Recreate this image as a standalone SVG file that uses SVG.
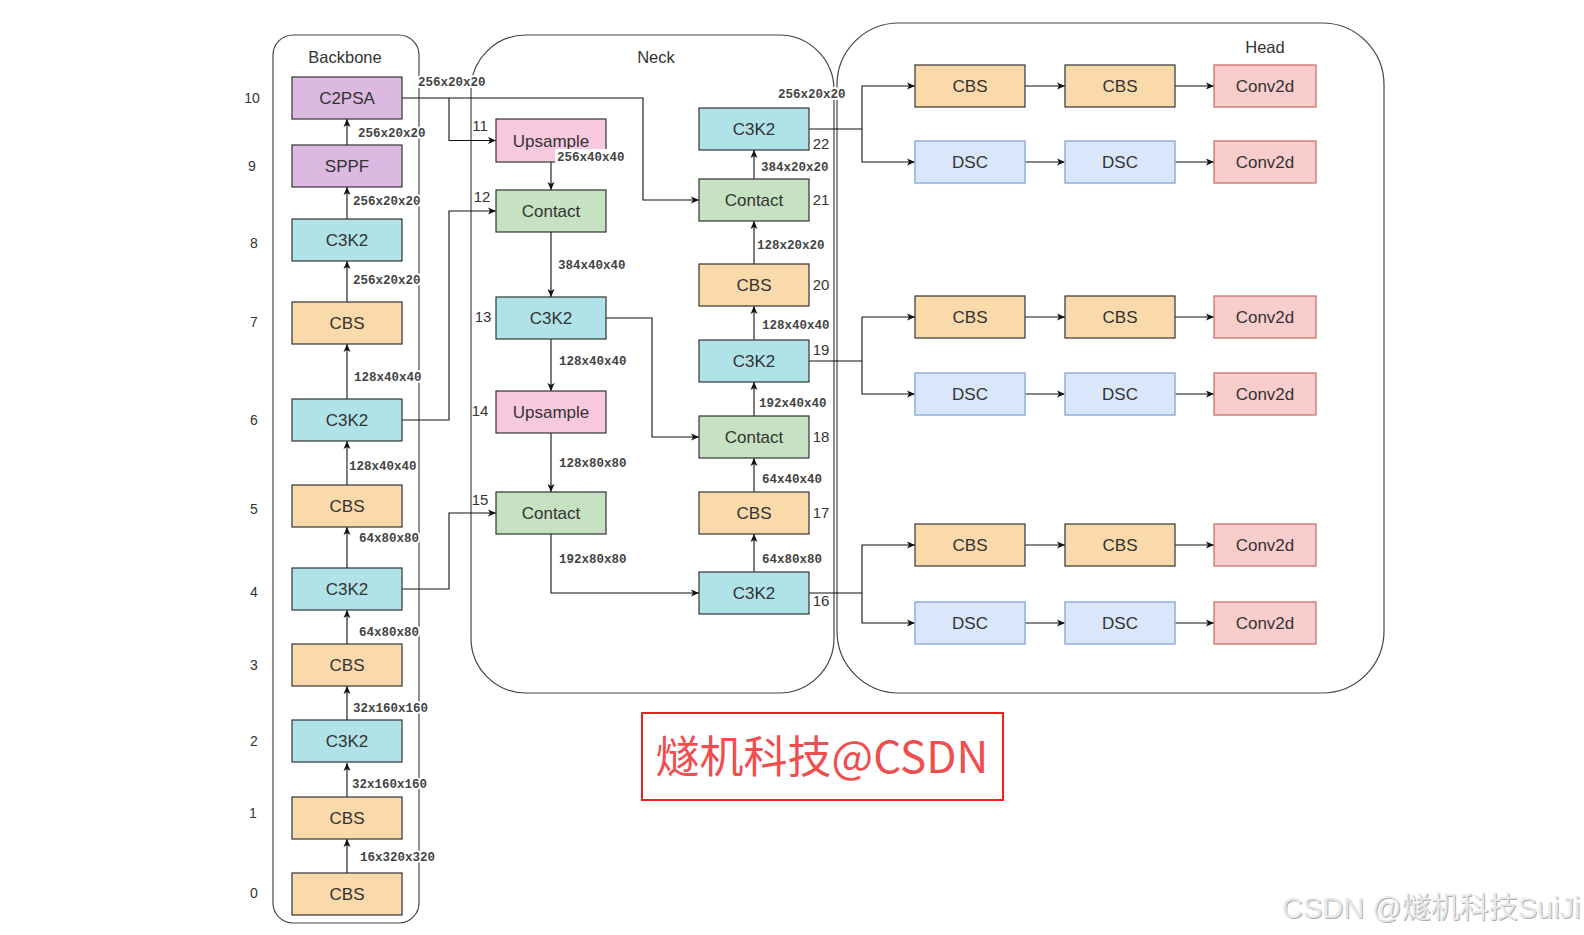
<svg xmlns="http://www.w3.org/2000/svg" width="1584" height="935" viewBox="0 0 1584 935">
<defs>
<marker id="ah" markerUnits="userSpaceOnUse" markerWidth="10" markerHeight="8" refX="8" refY="4" orient="auto">
<path d="M0,0.5 L8,4 L0,7.5 L2,4 Z" fill="#111"/>
</marker>
<style>
.cont{fill:none;stroke:#444;stroke-width:1.2}
.box{stroke:#333;stroke-width:1.2}
.cbs{fill:#fad9aa}
.c3k2{fill:#b0e3e8}
.purple{fill:#dcb9e0}
.up{fill:#f8c8de}
.cat{fill:#c6e2c3}
.dsc{fill:#dae7fb;stroke:#8eaedc;stroke-width:1.5}
.conv{fill:#f8cdcc;stroke:#c86864;stroke-width:1.2}
.t{font-family:"Liberation Sans",Arial,sans-serif;font-size:17px;fill:#333;text-anchor:middle}
.num{font-family:"Liberation Sans",Arial,sans-serif;font-size:14px;fill:#333;text-anchor:middle}
.num2{font-family:"Liberation Sans",Arial,sans-serif;font-size:15px;fill:#333;text-anchor:middle}
.title{font-family:"Liberation Sans",Arial,sans-serif;font-size:16.5px;fill:#333;text-anchor:middle}
.lbl{font-family:"Liberation Mono","Courier New",monospace;font-size:12.5px;font-weight:bold;fill:#444;stroke:#fff;stroke-width:4;paint-order:stroke;stroke-linejoin:round}
.ln{fill:none;stroke:#111;stroke-width:1.1}
.arr{fill:none;stroke:#111;stroke-width:1.1;marker-end:url(#ah)}
</style>
</defs>
<rect width="1584" height="935" fill="#fff"/>

<!-- containers -->
<g id="containers">
<rect class="cont" x="273" y="35" width="146" height="888" rx="20" ry="20"/>
<rect class="cont" x="471" y="35" width="363" height="658" rx="55" ry="55"/>
<rect class="cont" x="837" y="23" width="547" height="670" rx="62" ry="62"/>
<text class="title" x="345" y="63">Backbone</text>
<text class="title" x="656" y="63">Neck</text>
<text class="title" x="1265" y="53">Head</text>
</g>

<!-- connectors -->
<g id="connectors">
<!-- backbone -->
<path class="arr" d="M347,873 V839"/>
<path class="arr" d="M347,797 V763"/>
<path class="arr" d="M347,720 V686"/>
<path class="arr" d="M347,644 V610"/>
<path class="arr" d="M347,568 V527"/>
<path class="arr" d="M347,485 V441"/>
<path class="arr" d="M347,399 V344"/>
<path class="arr" d="M347,302 V261"/>
<path class="arr" d="M347,219 V187"/>
<path class="arr" d="M347,145 V119"/>
<!-- backbone to neck -->
<path class="arr" d="M402,98 H643 V200 H699"/>
<path class="arr" d="M449,98 V140.5 H496"/>
<path class="arr" d="M402,420 H449 V211 H496"/>
<path class="arr" d="M402,589 H449 V513 H496"/>
<!-- neck left column -->
<path class="arr" d="M551,162 V190"/>
<path class="arr" d="M551,232 V297"/>
<path class="arr" d="M551,339 V391"/>
<path class="arr" d="M551,433 V492"/>
<path class="arr" d="M606,318 H652 V437 H699"/>
<path class="arr" d="M551,534 V593 H699"/>
<!-- neck right column -->
<path class="arr" d="M754,572 V534"/>
<path class="arr" d="M754,492 V458"/>
<path class="arr" d="M754,416 V382"/>
<path class="arr" d="M754,340 V306"/>
<path class="arr" d="M754,264 V221"/>
<path class="arr" d="M754,179 V150"/>
<!-- neck to head -->
<path class="ln" d="M809,129 H862"/>
<path class="arr" d="M862,129 V86 H915"/>
<path class="arr" d="M862,129 V162 H915"/>
<path class="ln" d="M809,361 H862"/>
<path class="arr" d="M862,361 V317 H915"/>
<path class="arr" d="M862,361 V394 H915"/>
<path class="ln" d="M809,593 H862"/>
<path class="arr" d="M862,593 V545 H915"/>
<path class="arr" d="M862,593 V623 H915"/>
<!-- head rows -->
<path class="arr" d="M1025,86 H1065"/>
<path class="arr" d="M1175,86 H1214"/>
<path class="arr" d="M1025,162 H1065"/>
<path class="arr" d="M1175,162 H1214"/>
<path class="arr" d="M1025,317 H1065"/>
<path class="arr" d="M1175,317 H1214"/>
<path class="arr" d="M1025,394 H1065"/>
<path class="arr" d="M1175,394 H1214"/>
<path class="arr" d="M1025,545 H1065"/>
<path class="arr" d="M1175,545 H1214"/>
<path class="arr" d="M1025,623 H1065"/>
<path class="arr" d="M1175,623 H1214"/>
</g>

<!-- backbone nodes -->
<g id="n10"><rect class="box purple" x="292" y="77" width="110" height="42"/><text class="t" x="347" y="104">C2PSA</text><text class="num" x="252" y="103">10</text></g>
<g id="n9"><rect class="box purple" x="292" y="145" width="110" height="42"/><text class="t" x="347" y="172">SPPF</text><text class="num" x="252" y="171">9</text></g>
<g id="n8"><rect class="box c3k2" x="292" y="219" width="110" height="42"/><text class="t" x="347" y="246">C3K2</text><text class="num" x="254" y="248">8</text></g>
<g id="n7"><rect class="box cbs" x="292" y="302" width="110" height="42"/><text class="t" x="347" y="329">CBS</text><text class="num" x="254" y="327">7</text></g>
<g id="n6"><rect class="box c3k2" x="292" y="399" width="110" height="42"/><text class="t" x="347" y="426">C3K2</text><text class="num" x="254" y="425">6</text></g>
<g id="n5"><rect class="box cbs" x="292" y="485" width="110" height="42"/><text class="t" x="347" y="512">CBS</text><text class="num" x="254" y="514">5</text></g>
<g id="n4"><rect class="box c3k2" x="292" y="568" width="110" height="42"/><text class="t" x="347" y="595">C3K2</text><text class="num" x="254" y="597">4</text></g>
<g id="n3"><rect class="box cbs" x="292" y="644" width="110" height="42"/><text class="t" x="347" y="671">CBS</text><text class="num" x="254" y="670">3</text></g>
<g id="n2"><rect class="box c3k2" x="292" y="720" width="110" height="42"/><text class="t" x="347" y="747">C3K2</text><text class="num" x="254" y="746">2</text></g>
<g id="n1"><rect class="box cbs" x="292" y="797" width="110" height="42"/><text class="t" x="347" y="824">CBS</text><text class="num" x="253" y="818">1</text></g>
<g id="n0"><rect class="box cbs" x="292" y="873" width="110" height="42"/><text class="t" x="347" y="900">CBS</text><text class="num" x="254" y="898">0</text></g>

<!-- neck nodes -->
<g id="n11"><rect class="box up" x="496" y="119" width="110" height="43"/><text class="t" x="551" y="147">Upsample</text><text class="num2" x="480" y="131">11</text></g>
<g id="n12"><rect class="box cat" x="496" y="190" width="110" height="42"/><text class="t" x="551" y="217">Contact</text><text class="num2" x="482" y="202">12</text></g>
<g id="n13"><rect class="box c3k2" x="496" y="297" width="110" height="42"/><text class="t" x="551" y="324">C3K2</text><text class="num2" x="483" y="322">13</text></g>
<g id="n14"><rect class="box up" x="496" y="391" width="110" height="42"/><text class="t" x="551" y="418">Upsample</text><text class="num2" x="480" y="416">14</text></g>
<g id="n15"><rect class="box cat" x="496" y="492" width="110" height="42"/><text class="t" x="551" y="519">Contact</text><text class="num2" x="480" y="505">15</text></g>
<g id="n22"><rect class="box c3k2" x="699" y="108" width="110" height="42"/><text class="t" x="754" y="135">C3K2</text><text class="num2" x="821" y="149">22</text></g>
<g id="n21"><rect class="box cat" x="699" y="179" width="110" height="42"/><text class="t" x="754" y="206">Contact</text><text class="num2" x="821" y="205">21</text></g>
<g id="n20"><rect class="box cbs" x="699" y="264" width="110" height="42"/><text class="t" x="754" y="291">CBS</text><text class="num2" x="821" y="290">20</text></g>
<g id="n19"><rect class="box c3k2" x="699" y="340" width="110" height="42"/><text class="t" x="754" y="367">C3K2</text><text class="num2" x="821" y="355">19</text></g>
<g id="n18"><rect class="box cat" x="699" y="416" width="110" height="42"/><text class="t" x="754" y="443">Contact</text><text class="num2" x="821" y="442">18</text></g>
<g id="n17"><rect class="box cbs" x="699" y="492" width="110" height="42"/><text class="t" x="754" y="519">CBS</text><text class="num2" x="821" y="518">17</text></g>
<g id="n16"><rect class="box c3k2" x="699" y="572" width="110" height="42"/><text class="t" x="754" y="599">C3K2</text><text class="num2" x="821" y="606">16</text></g>

<!-- head nodes -->
<g id="h1"><rect class="box cbs" x="915" y="65" width="110" height="42"/><text class="t" x="970" y="92">CBS</text></g>
<g id="h2"><rect class="box cbs" x="1065" y="65" width="110" height="42"/><text class="t" x="1120" y="92">CBS</text></g>
<g id="h3"><rect class="conv" x="1214" y="65" width="102" height="42"/><text class="t" x="1265" y="92">Conv2d</text></g>
<g id="h4"><rect class="dsc" x="915" y="141" width="110" height="42"/><text class="t" x="970" y="168">DSC</text></g>
<g id="h5"><rect class="dsc" x="1065" y="141" width="110" height="42"/><text class="t" x="1120" y="168">DSC</text></g>
<g id="h6"><rect class="conv" x="1214" y="141" width="102" height="42"/><text class="t" x="1265" y="168">Conv2d</text></g>
<g id="h7"><rect class="box cbs" x="915" y="296" width="110" height="42"/><text class="t" x="970" y="323">CBS</text></g>
<g id="h8"><rect class="box cbs" x="1065" y="296" width="110" height="42"/><text class="t" x="1120" y="323">CBS</text></g>
<g id="h9"><rect class="conv" x="1214" y="296" width="102" height="42"/><text class="t" x="1265" y="323">Conv2d</text></g>
<g id="h10"><rect class="dsc" x="915" y="373" width="110" height="42"/><text class="t" x="970" y="400">DSC</text></g>
<g id="h11"><rect class="dsc" x="1065" y="373" width="110" height="42"/><text class="t" x="1120" y="400">DSC</text></g>
<g id="h12"><rect class="conv" x="1214" y="373" width="102" height="42"/><text class="t" x="1265" y="400">Conv2d</text></g>
<g id="h13"><rect class="box cbs" x="915" y="524" width="110" height="42"/><text class="t" x="970" y="551">CBS</text></g>
<g id="h14"><rect class="box cbs" x="1065" y="524" width="110" height="42"/><text class="t" x="1120" y="551">CBS</text></g>
<g id="h15"><rect class="conv" x="1214" y="524" width="102" height="42"/><text class="t" x="1265" y="551">Conv2d</text></g>
<g id="h16"><rect class="dsc" x="915" y="602" width="110" height="42"/><text class="t" x="970" y="629">DSC</text></g>
<g id="h17"><rect class="dsc" x="1065" y="602" width="110" height="42"/><text class="t" x="1120" y="629">DSC</text></g>
<g id="h18"><rect class="conv" x="1214" y="602" width="102" height="42"/><text class="t" x="1265" y="629">Conv2d</text></g>

<!-- edge labels -->
<g id="labels">
<text class="lbl" x="358" y="137">256x20x20</text>
<text class="lbl" x="353" y="205">256x20x20</text>
<text class="lbl" x="353" y="284">256x20x20</text>
<text class="lbl" x="354" y="381">128x40x40</text>
<text class="lbl" x="349" y="470">128x40x40</text>
<text class="lbl" x="359" y="542">64x80x80</text>
<text class="lbl" x="359" y="636">64x80x80</text>
<text class="lbl" x="353" y="712">32x160x160</text>
<text class="lbl" x="352" y="788">32x160x160</text>
<text class="lbl" x="360" y="861">16x320x320</text>
<text class="lbl" x="418" y="86">256x20x20</text>
<rect x="555" y="149" width="72" height="15" fill="#fff"/>
<text class="lbl" x="557" y="161">256x40x40</text>
<text class="lbl" x="558" y="269">384x40x40</text>
<text class="lbl" x="559" y="365">128x40x40</text>
<text class="lbl" x="559" y="467">128x80x80</text>
<text class="lbl" x="559" y="563">192x80x80</text>
<text class="lbl" x="778" y="98">256x20x20</text>
<text class="lbl" x="761" y="171">384x20x20</text>
<text class="lbl" x="757" y="249">128x20x20</text>
<text class="lbl" x="762" y="329">128x40x40</text>
<text class="lbl" x="759" y="407">192x40x40</text>
<text class="lbl" x="762" y="483">64x40x40</text>
<text class="lbl" x="762" y="563">64x80x80</text>
</g>

<!-- watermarks -->
<g id="wm1">
<rect x="642" y="713" width="361" height="87" fill="none" stroke="#f02020" stroke-width="2"/>
<text x="822" y="773" text-anchor="middle" font-family="'Noto Sans CJK SC','Noto Sans',sans-serif" font-size="44" fill="#f04e4e">燧机科技@CSDN</text>
</g>
<g id="wm2" font-family="'Liberation Sans','Noto Sans CJK SC',sans-serif" font-size="29">
<text x="1283" y="919" fill="#b0b0b0">CSDN @燧机科技SuiJi</text>
<text x="1282" y="918" fill="#e8e8e8">CSDN @燧机科技SuiJi</text>
</g>
</svg>
